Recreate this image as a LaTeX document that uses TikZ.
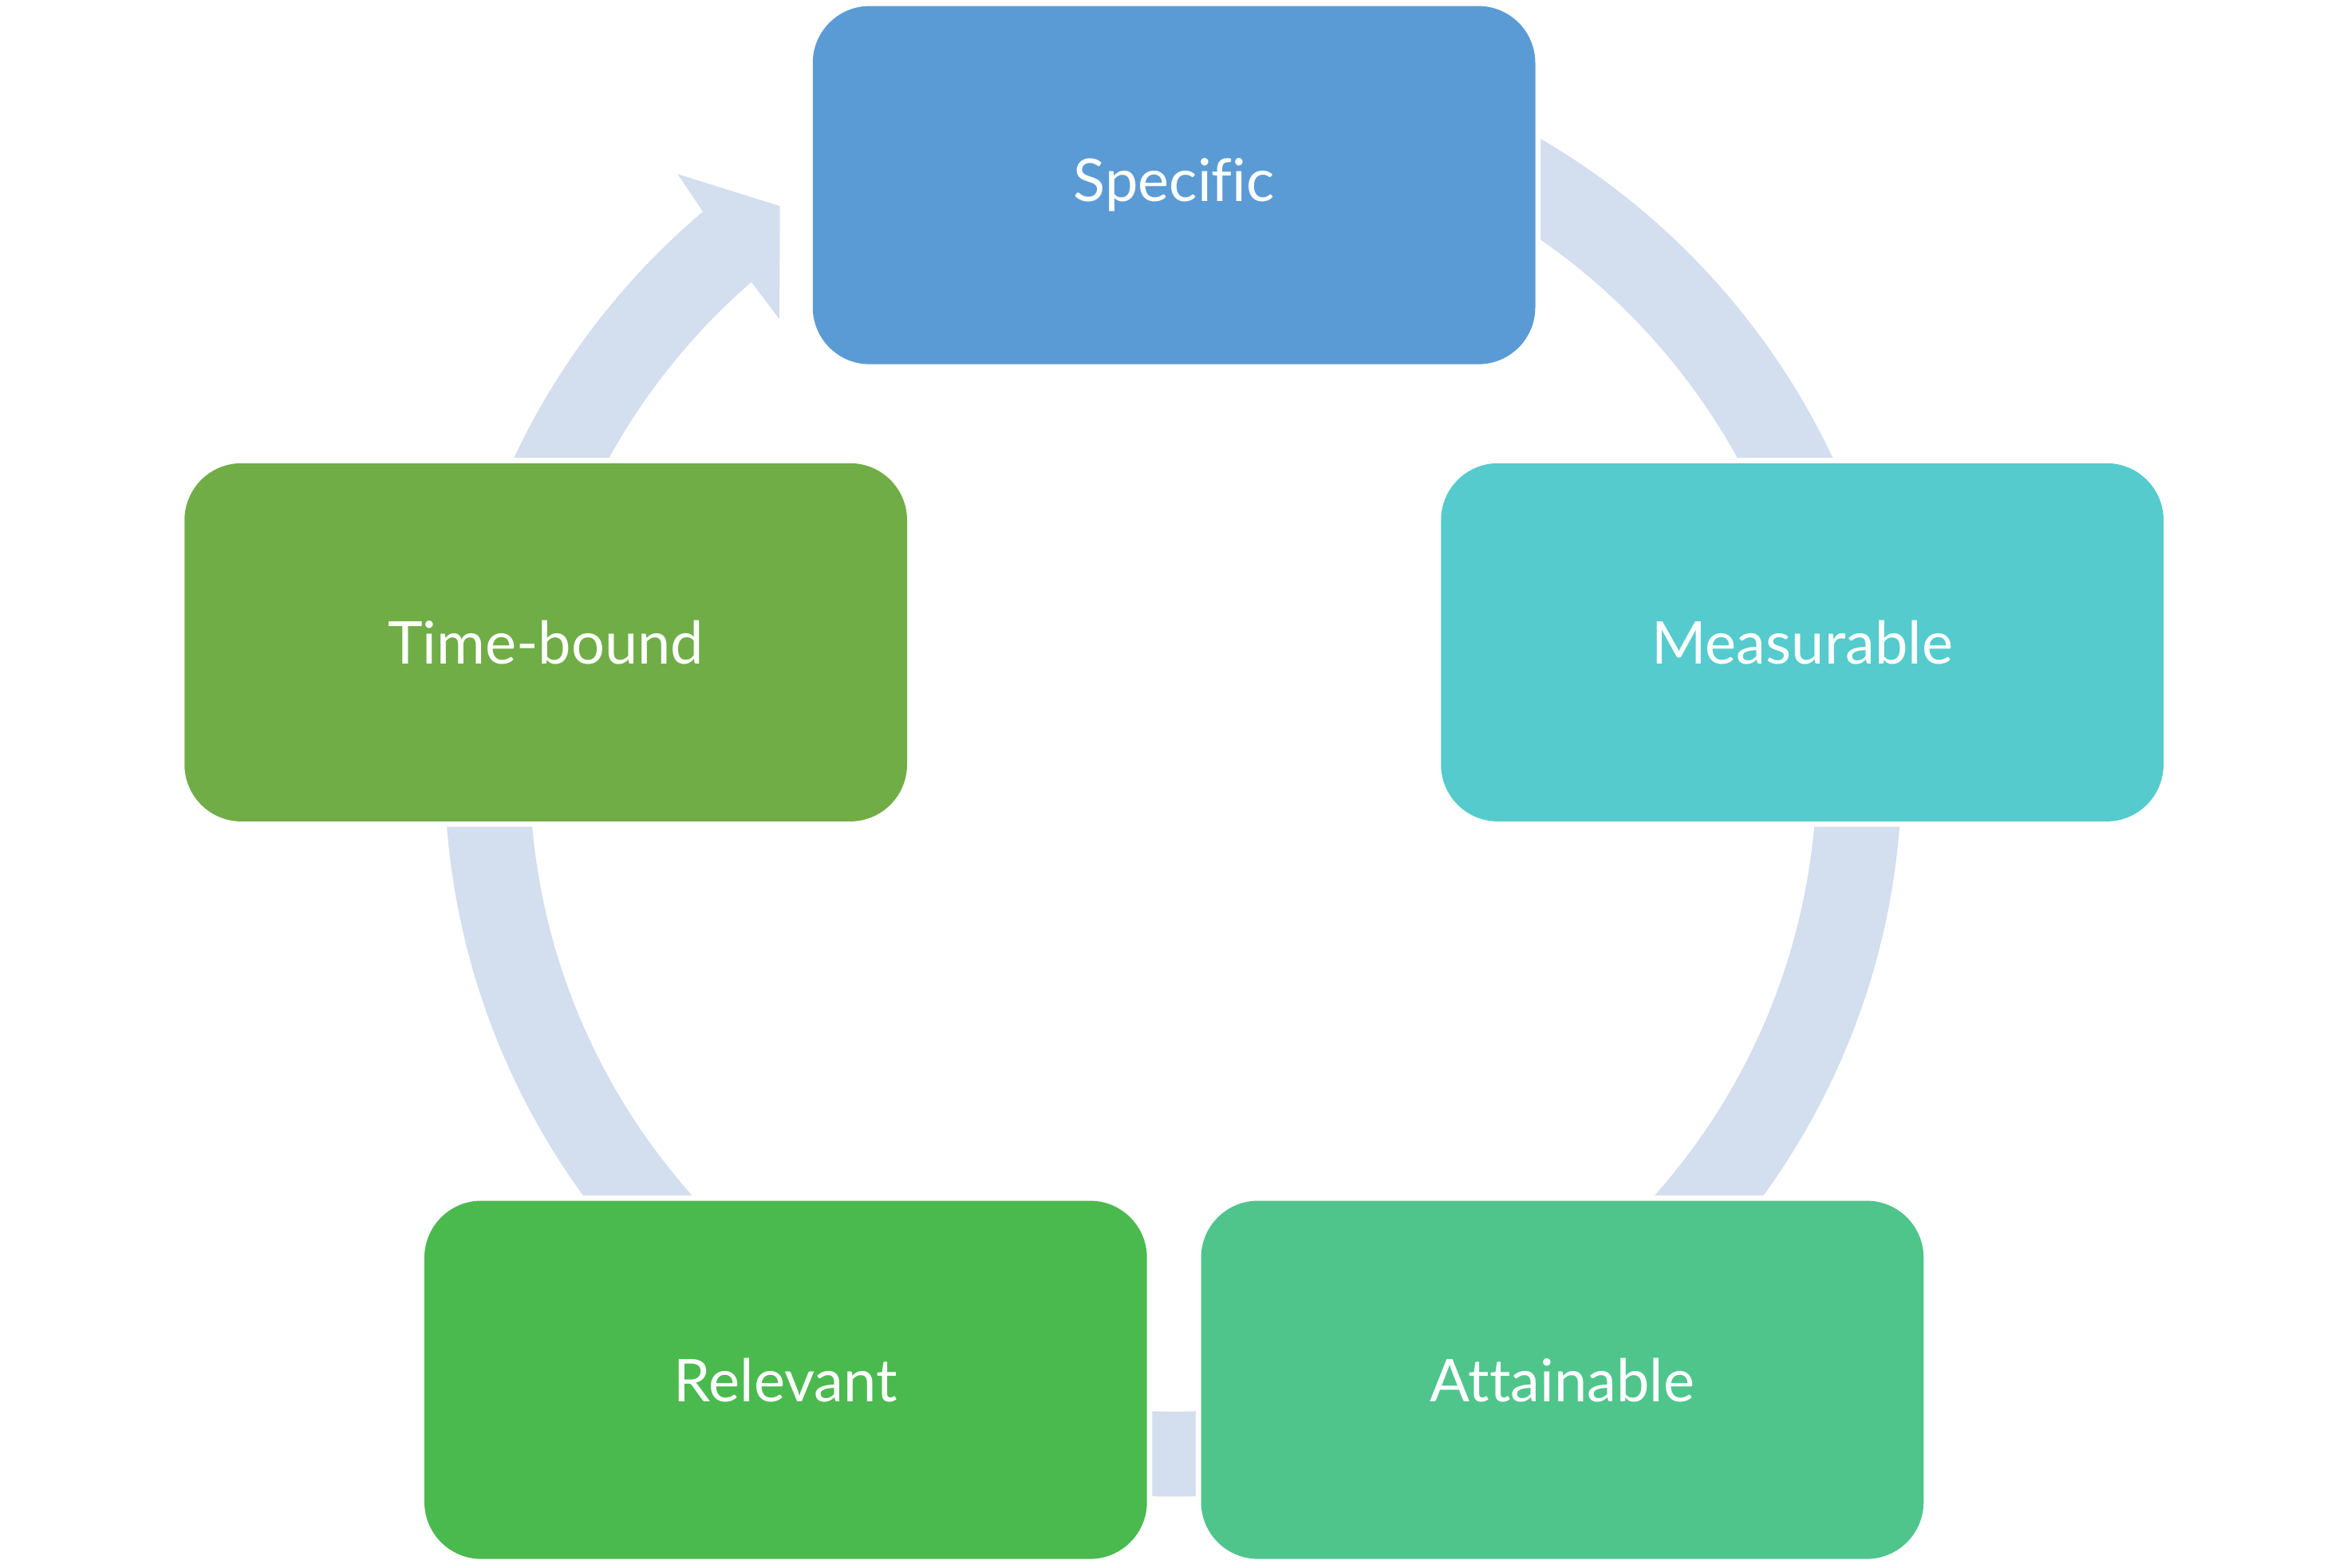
\documentclass[tikz,border=0pt]{standalone}
\usepackage{fontspec}
\setmainfont{Lato}[Ligatures=NoCommon]
\usetikzlibrary{calc}
\definecolor{ringc}{HTML}{D3DEEF}
\definecolor{cspec}{HTML}{5B9BD5}
\definecolor{cmeas}{HTML}{55CBCD}
\definecolor{catt}{HTML}{4FC58C}
\definecolor{crel}{HTML}{4ABA4F}
\definecolor{ctime}{HTML}{70AD47}
\tikzset{
  stepbox/.style={rectangle, rounded corners=0.76cm, minimum width=9.64cm, minimum height=4.78cm,
    inner sep=0pt, text=white, font=\fontsize{22.4}{26}\selectfont,
    preaction={draw=white, line width=0.14cm}}
}
\begin{document}
\begin{tikzpicture}[x=0.02cm,y=0.02cm]
\useasboundingbox (0,0) rectangle (1568,-1046);
\fill[white] (0,0) rectangle (1568,-1046);
\coordinate (C) at (782.5,-512.4);
% ring with arrowhead
\fill[ringc] ($(C)+(90:486)$) arc[start angle=90, end angle=-229.8, radius=486]
  -- (451.9,-116.1) -- (520.2,-137.5) -- (519.7,-212.8)
  -- ($(C)+(-229.05:429.3)$) arc[start angle=-229.05, end angle=90, radius=429.3] -- cycle;
% boxes
\node[stepbox, fill=cspec] (spec) at (783,-123.5) {Specific};
\node[stepbox, fill=cmeas] (meas) at (1202,-428.5) {Measurable};
\node[stepbox, fill=catt] (att) at (1042,-920.5) {Attainable};
\node[stepbox, fill=crel] (rel) at (524,-920.5) {Relevant};
\node[stepbox, fill=ctime] (time) at (364,-428.5) {Time-bound};
\end{tikzpicture}
\end{document}
